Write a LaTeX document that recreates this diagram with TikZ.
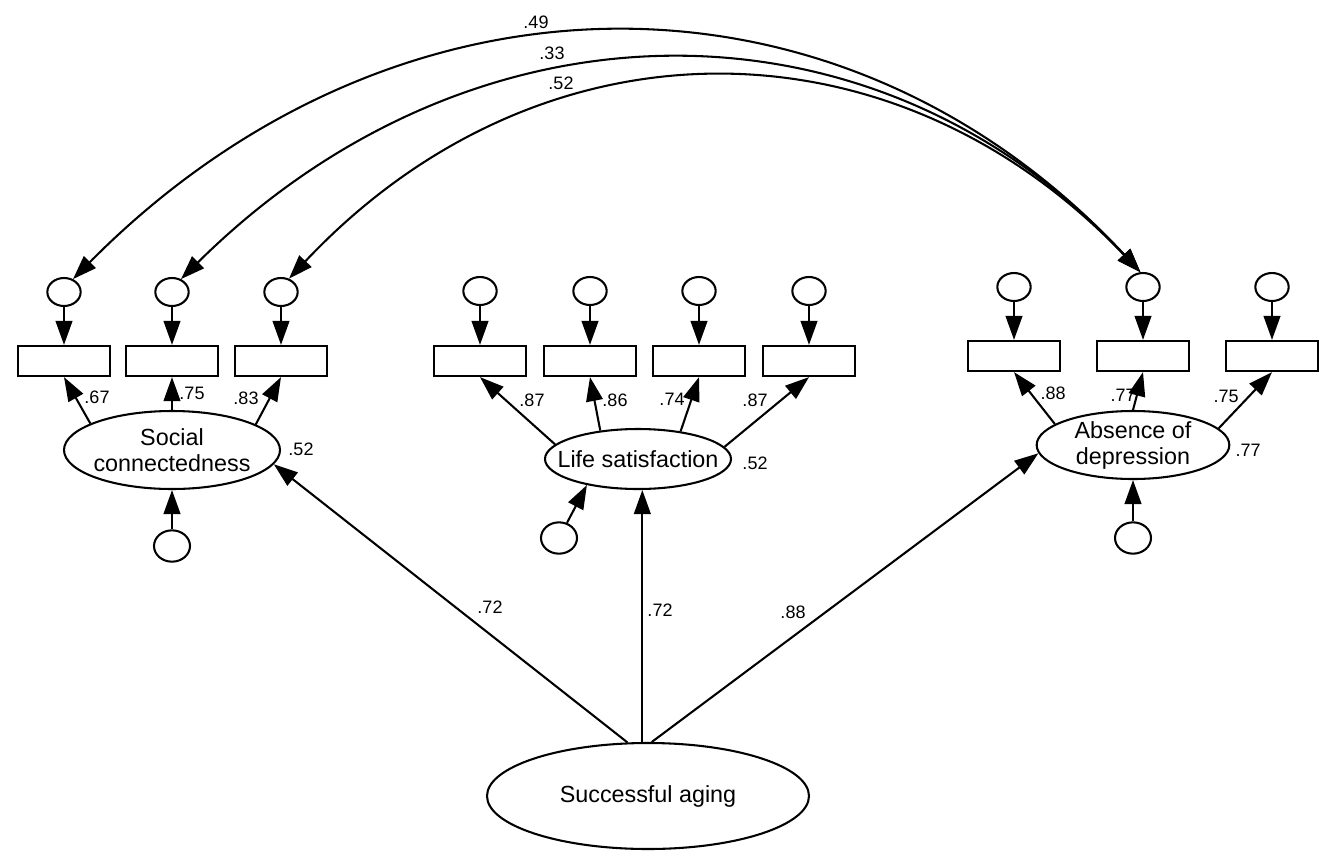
\documentclass[tikz,border=0pt]{standalone}
\usepackage{fontspec}
\setmainfont{Liberation Sans}
\usetikzlibrary{arrows.meta,shapes.geometric}
\newcommand\mytextfs{\fontsize{17.5}{19.5}\selectfont}
\newcommand\mylblfs{\fontsize{13.5}{15}\selectfont}
\begin{document}
\begin{tikzpicture}[x=0.75pt,y=-0.75pt,
  lw/.style={line width=1.55pt},
  lat/.style={ellipse, draw, lw, inner sep=0pt},
  mtext/.style={font=\mytextfs, align=center, inner sep=0pt},
  err/.style={ellipse, draw, lw, inner sep=0pt, minimum width=25pt, minimum height=21pt},
  dis/.style={ellipse, draw, lw, inner sep=0pt, minimum width=27pt, minimum height=23.5pt},
  obs/.style={rectangle, draw, lw, inner sep=0pt, minimum width=69pt, minimum height=22.6pt},
  arr/.style={lw, -{Triangle[length=18pt,width=12.5pt]}},
  cov/.style={lw, {Triangle[length=18pt,width=12.5pt]}-{Triangle[length=18pt,width=12.5pt]}},
  lbl/.style={font=\mylblfs, inner sep=0pt}]
\useasboundingbox (0,0) rectangle (1321,857);

% latent variables
\node[lat, minimum width=162pt, minimum height=58.5pt,
  label={[mtext]center:Social\\connectedness}] (sc) at (172,450) {};
\node[lat, minimum width=139.5pt, minimum height=45pt,
  label={[mtext]center:Life satisfaction}] (ls) at (638,459) {};
\node[lat, minimum width=144.5pt, minimum height=51pt,
  label={[mtext]center:Absence of\\depression}] (ad) at (1133,445) {};
\node[lat, minimum width=241.5pt, minimum height=79.5pt,
  label={[mtext]center:Successful aging}] (sa) at (648,796) {};

% observed (left)
\node[obs] (o1) at (64,361) {};
\node[obs] (o2) at (172,361) {};
\node[obs] (o3) at (281,361) {};
\node[err] (e1) at (64,292) {};
\node[err] (e2) at (172,292) {};
\node[err] (e3) at (281,292) {};
% observed (middle)
\node[obs] (m1) at (480,361) {};
\node[obs] (m2) at (590,361) {};
\node[obs] (m3) at (699,361) {};
\node[obs] (m4) at (809,361) {};
\node[err] (f1) at (480,291) {};
\node[err] (f2) at (590,291) {};
\node[err] (f3) at (699,291) {};
\node[err] (f4) at (809,291) {};
% observed (right)
\node[obs] (r1) at (1014,356) {};
\node[obs] (r2) at (1143,356) {};
\node[obs] (r3) at (1272,356) {};
\node[err] (g1) at (1014,287) {};
\node[err] (g2) at (1143,287) {};
\node[err] (g3) at (1272,287) {};
% disturbances
\node[dis] (d1) at (172,546) {};
\node[dis] (d2) at (559,538) {};
\node[dis] (d3) at (1133,538) {};

% error arrows
\foreach \a/\b in {e1/o1,e2/o2,e3/o3,f1/m1,f2/m2,f3/m3,f4/m4,g1/r1,g2/r2,g3/r3}
  \draw[arr] (\a) -- (\b);

% loadings
\draw[arr] (sc.162) -- (o1.south);
\draw[arr] (sc.90) -- (o2.south);
\draw[arr] (sc.17) -- (o3.south);
\draw[arr] (ls.170) -- (m1.south);
\draw[arr] (ls.143) -- (m2.south);
\draw[arr] (ls.33) -- (m3.south);
\draw[arr] (ls.8) -- (m4.south);
\draw[arr] (ad.165) -- (r1.south);
\draw[arr] (ad.90) -- (r2.south);
\draw[arr] (ad.11) -- (r3.south);

% disturbances
\draw[arr] (d1) -- (sc.south);
\draw[arr] (d2) -- (ls.207);
\draw[arr] (d3) -- (ad.south);

% structural paths
\draw[arr] (sa.111) -- (sc.-8);
\draw[arr] (sa.96) -- (ls.south -| sa.96);
\draw[arr] (sa.86) -- (ad.185);

% covariances
\draw[cov] (e1.55) .. controls (397,-48) and (843,-48) .. (g2.100);
\draw[cov] (e2.55) .. controls (475,-12) and (877,-12) .. (g2.100);
\draw[cov] (e3.59) .. controls (540,12) and (893,12) .. (g2.100);

% labels
\node[lbl] (c49) at (536,22) {.49};
\node[lbl] (c33) at (552,53) {.33};
\node[lbl] (c52) at (561,83) {.52};

\node[lbl] (s67) at (97,397) {.67};
\node[lbl] (s75) at (192,393) {.75};
\node[lbl] (s83) at (246,398) {.83};
\node[lbl] (s52) at (301,449) {.52};

\node[lbl] (l87a) at (532,400) {.87};
\node[lbl] (l86) at (615,400) {.86};
\node[lbl] (l74) at (672,399) {.74};
\node[lbl] (l87b) at (755,400) {.87};
\node[lbl] (l52) at (755,463) {.52};

\node[lbl] (a88) at (1053,393) {.88};
\node[lbl] (a77a) at (1123,395) {.77};
\node[lbl] (a75) at (1226,396) {.75};
\node[lbl] (a77b) at (1248,450) {.77};

\node[lbl] (p1) at (490,607) {.72};
\node[lbl] (p2) at (660,610) {.72};
\node[lbl] (p3) at (793,612) {.88};
\end{tikzpicture}
\end{document}
